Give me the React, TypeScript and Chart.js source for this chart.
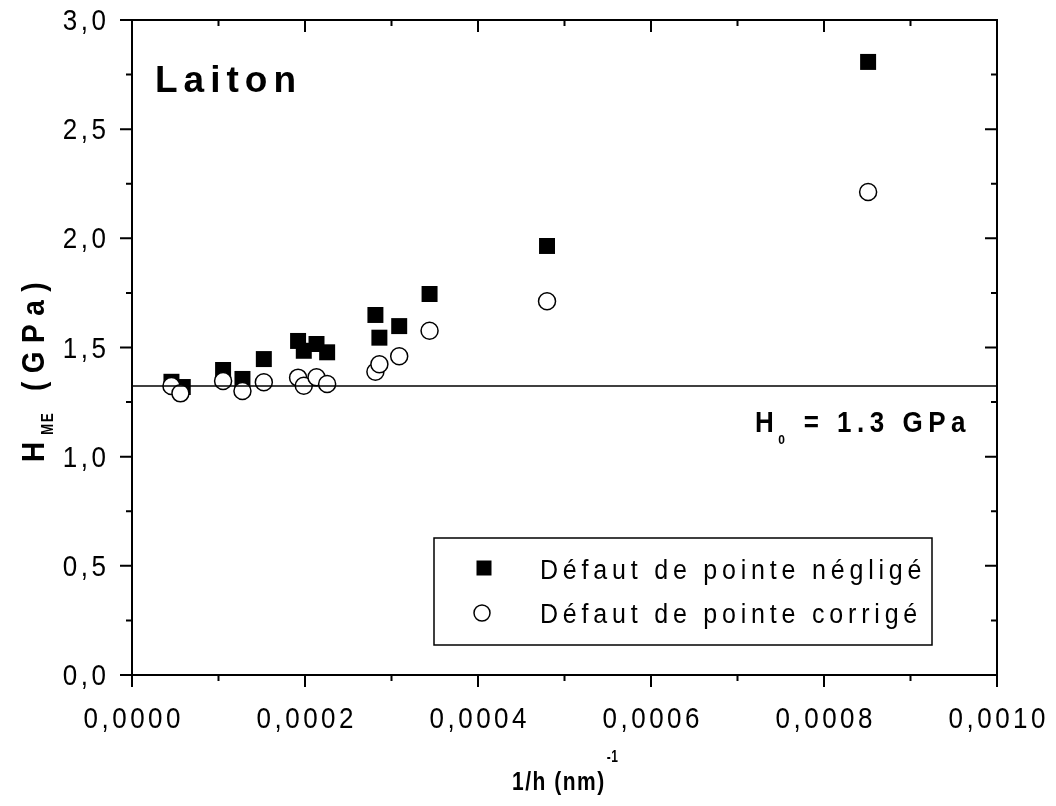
import React, { useEffect, useRef } from "react";
import { Chart, registerables } from "chart.js";

Chart.register(...registerables);

// 1/h (nm^-1)
const xNeglige = [0.0000456, 0.0000587, 0.0001053, 0.0001277, 0.0001524, 0.000192, 0.0001986, 0.0002133, 0.0002256, 0.0002814, 0.000286, 0.0003089, 0.000344, 0.0004798, 0.000851];
const yNeglige = [1.343, 1.319, 1.397, 1.356, 1.447, 1.53, 1.485, 1.516, 1.478, 1.649, 1.545, 1.598, 1.745, 1.965, 2.808];
const xCorrige = [0.0000456, 0.000056, 0.0001053, 0.0001277, 0.0001524, 0.000192, 0.0001986, 0.0002133, 0.0002256, 0.0002814, 0.000286, 0.0003089, 0.000344, 0.0004798, 0.000851];
const yCorrige = [1.324, 1.29, 1.347, 1.301, 1.341, 1.362, 1.325, 1.364, 1.333, 1.389, 1.423, 1.46, 1.577, 1.712, 2.212];
const h0Value = 1.324;

const xMajorTicks = [0, 0.0002, 0.0004, 0.0006, 0.0008, 0.001];
const xMinorTicks = [0.0001, 0.0003, 0.0005, 0.0007, 0.0009];
const yMajorTicks = [0, 0.5, 1.0, 1.5, 2.0, 2.5, 3.0];
const yMinorTicks = [0.25, 0.75, 1.25, 1.75, 2.25, 2.75];

const legendLabels = ["Défaut de pointe négligé", "Défaut de pointe corrigé"];
const FONT = "'Liberation Sans', Arial, Helvetica, sans-serif";

const fmtX = (v: number) => v.toFixed(4).replace(".", ",");
const fmtY = (v: number) => v.toFixed(1).replace(".", ",");

function drawSpaced(
  ctx: CanvasRenderingContext2D,
  text: string,
  x: number,
  y: number,
  font: string,
  spacing: number,
  align: "left" | "center" | "right" = "left",
  sy = 1
) {
  ctx.save();
  ctx.font = font;
  (ctx as any).letterSpacing = spacing + "px";
  const w = ctx.measureText(text).width - spacing;
  let sx = x;
  if (align === "center") sx = x - w / 2;
  else if (align === "right") sx = x - w;
  ctx.textAlign = "left";
  ctx.translate(sx, y);
  ctx.scale(1, sy);
  ctx.fillText(text, 0, 0);
  ctx.restore();
  return w + spacing;
}

const decorPlugin = {
  id: "decor",
  afterDraw(chart: any) {
    const ctx: CanvasRenderingContext2D = chart.ctx;
    const { left, right, top, bottom } = chart.chartArea;
    const xs = chart.scales.x;
    const ys = chart.scales.y;
    ctx.save();
    ctx.strokeStyle = "#000";
    ctx.fillStyle = "#000";
    // frame
    ctx.lineWidth = 2;
    ctx.strokeRect(left, top, right - left, bottom - top);
    // ticks
    ctx.beginPath();
    const maj = 12, min = 6;
    xMajorTicks.forEach((v) => {
      const px = xs.getPixelForValue(v);
      ctx.moveTo(px, bottom); ctx.lineTo(px, bottom + maj);
      ctx.moveTo(px, top); ctx.lineTo(px, top + maj);
    });
    xMinorTicks.forEach((v) => {
      const px = xs.getPixelForValue(v);
      ctx.moveTo(px, bottom); ctx.lineTo(px, bottom + min);
      ctx.moveTo(px, top); ctx.lineTo(px, top + min);
    });
    yMajorTicks.forEach((v) => {
      const py = ys.getPixelForValue(v);
      ctx.moveTo(left, py); ctx.lineTo(left - maj, py);
      ctx.moveTo(right, py); ctx.lineTo(right - maj, py);
    });
    yMinorTicks.forEach((v) => {
      const py = ys.getPixelForValue(v);
      ctx.moveTo(left, py); ctx.lineTo(left - min, py);
      ctx.moveTo(right, py); ctx.lineTo(right - min, py);
    });
    ctx.stroke();

    // tick labels
    ctx.textBaseline = "alphabetic";
    xMajorTicks.forEach((v) => {
      drawSpaced(ctx, fmtX(v), xs.getPixelForValue(v), 728, `26px ${FONT}`, 3.5, "center", 1.1);
    });
    yMajorTicks.forEach((v) => {
      drawSpaced(ctx, fmtY(v), 106, ys.getPixelForValue(v) + 10, `26px ${FONT}`, 3.5, "right", 1.1);
    });

    // x title
    let cx = 512;
    cx += drawSpaced(ctx, "1/h (nm)", cx, 790, `bold 21px ${FONT}`, 1.5, "left", 1.22);
    drawSpaced(ctx, "-1", cx + 1, 762, `bold 12px ${FONT}`, 0.5, "left", 1.3);

    // y title (rotated)
    ctx.save();
    ctx.translate(44, 462);
    ctx.rotate(-Math.PI / 2);
    let ty = 0;
    ty += drawSpaced(ctx, "H", ty, 0, `bold 28px ${FONT}`, 6, "left", 1.15);
    ty += drawSpaced(ctx, "ME", ty + 1, 9, `bold 13px ${FONT}`, 2, "left", 1.2) + 5;
    drawSpaced(ctx, " (GPa)", ty, 0, `bold 28px ${FONT}`, 8.5, "left", 1.15);
    ctx.restore();

    // Laiton
    drawSpaced(ctx, "Laiton", 155, 92, `bold 37px ${FONT}`, 6, "left");

    // H0 text
    let hx = 755;
    hx += drawSpaced(ctx, "H", hx, 432, `bold 26px ${FONT}`, 5.5, "left", 1.12);
    hx += drawSpaced(ctx, "0", hx - 1, 444, `bold 12px ${FONT}`, 3, "left", 1.1);
    drawSpaced(ctx, " = 1.3 GPa", hx + 2, 432, `bold 26px ${FONT}`, 5.5, "left", 1.12);

    // legend
    ctx.lineWidth = 1.5;
    ctx.strokeRect(434, 538, 498, 107);
    ctx.fillRect(484 - 7.5, 568 - 7.5, 15, 15);
    ctx.beginPath();
    ctx.arc(482, 613, 8, 0, Math.PI * 2);
    ctx.fillStyle = "#fff";
    ctx.fill();
    ctx.lineWidth = 1.5;
    ctx.stroke();
    ctx.fillStyle = "#000";
    drawSpaced(ctx, legendLabels[0], 540, 579, `25px ${FONT}`, 4.8, "left", 1.08);
    drawSpaced(ctx, legendLabels[1], 540, 623, `25px ${FONT}`, 4.8, "left", 1.08);
    ctx.restore();
  },
};

export default function App() {
  const ref = useRef<HTMLCanvasElement | null>(null);
  useEffect(() => {
    if (!ref.current) return;
    const toPts = (xs: number[], ys: number[]) => xs.map((x, i) => ({ x, y: ys[i] }));
    const chart = new Chart(ref.current, {
      type: "scatter",
      data: {
        datasets: [
          {
            label: "H0",
            type: "line" as any,
            data: [{ x: 0, y: h0Value }, { x: 0.001, y: h0Value }],
            borderColor: "#000",
            borderWidth: 1.5,
            pointRadius: 0,
            fill: false,
            order: 0,
          },
          {
            label: legendLabels[1],
            data: toPts(xCorrige, yCorrige),
            pointStyle: "circle",
            pointRadius: 8.5,
            pointBorderWidth: 1.5,
            borderColor: "#000",
            backgroundColor: "#fff",
            order: 1,
          },
          {
            label: legendLabels[0],
            data: toPts(xNeglige, yNeglige),
            pointStyle: "rect",
            pointRadius: 11.3,
            pointBorderWidth: 0,
            borderColor: "#000",
            backgroundColor: "#000",
            order: 2,
          },
        ],
      },
      options: {
        animation: false,
        responsive: false,
        devicePixelRatio: 1,
        layout: { padding: { top: 20, right: 59, left: 0, bottom: 0 } },
        plugins: { legend: { display: false }, tooltip: { enabled: false } },
        scales: {
          x: {
            type: "linear",
            min: 0,
            max: 0.001,
            grid: { display: false, drawTicks: false },
            border: { display: false },
            ticks: { display: false },
            afterFit: (s: any) => { s.height = 131; },
          },
          y: {
            type: "linear",
            min: 0,
            max: 3,
            grid: { display: false, drawTicks: false },
            border: { display: false },
            ticks: { display: false },
            afterFit: (s: any) => { s.width = 132; },
          },
        },
      } as any,
      plugins: [decorPlugin],
    });
    return () => chart.destroy();
  }, []);
  return (
    <div style={{ position: "fixed", left: 0, top: 0, width: 1056, height: 806, background: "#fff" }}>
      <canvas ref={ref} width={1056} height={806} style={{ width: 1056, height: 806 }} />
    </div>
  );
}
